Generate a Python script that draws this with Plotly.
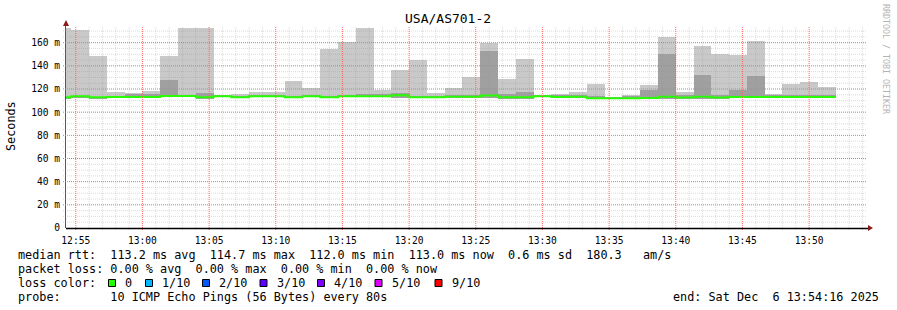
import plotly.graph_objects as go
import pandas as pd

# ---------------- data ----------------
DAY = "2025-12-06"
bar_start = [
    "12:53:20", "12:54:40", "12:56:00", "12:57:20", "12:58:40", "13:00:00",
    "13:01:20", "13:02:40", "13:04:00", "13:05:20", "13:06:40", "13:08:00",
    "13:09:20", "13:10:40", "13:12:00", "13:13:20", "13:14:40", "13:16:00",
    "13:17:20", "13:18:40", "13:20:00", "13:21:20", "13:22:40", "13:24:00",
    "13:25:20", "13:26:40", "13:28:00", "13:29:20", "13:30:40", "13:32:00",
    "13:33:20", "13:34:40", "13:36:00", "13:37:20", "13:38:40", "13:40:00",
    "13:41:20", "13:42:40", "13:44:00", "13:45:20", "13:46:40", "13:48:00",
    "13:49:20", "13:50:40",
]
last_bar_end = "13:52:00"
step_seconds = 80

# smoke: highest ping, upper edge of darker smoke, lowest ping (ms)
ping_max = [172.8, 171.0, 148.9, 117.6, 116.7, 118.4, 148.9, 172.8, 172.8, 115.2,
            115.5, 117.6, 117.6, 127.0, 120.8, 154.6, 160.7, 172.8, 119.2, 136.6,
            145.2, 116.2, 120.8, 130.0, 160.1, 128.8, 146.0, 115.0, 116.0, 117.7,
            124.0, 113.5, 115.0, 123.7, 165.3, 117.7, 157.2, 150.3, 149.5, 161.3,
            116.0, 124.7, 126.1, 121.9]
ping_upper = [113.5, 114.0, 113.5, 114.0, 115.5, 116.0, 128.0, 115.0, 116.4, 114.5,
              114.0, 114.5, 114.5, 114.0, 114.5, 114.0, 114.5, 115.5, 116.0, 116.5,
              114.0, 114.0, 114.5, 114.5, 153.2, 116.0, 117.7, 114.5, 115.0, 115.0,
              114.0, 113.0, 114.0, 119.4, 149.8, 115.0, 132.2, 115.0, 119.4, 131.5,
              114.5, 114.5, 114.5, 114.5]
ping_min = [111.9, 112.7, 111.9, 112.0, 112.0, 112.2, 112.9, 112.9, 111.8, 112.7,
            111.9, 112.7, 112.7, 111.9, 112.7, 111.9, 112.7, 112.7, 112.7, 112.6,
            111.9, 111.9, 112.3, 112.3, 112.6, 111.8, 111.8, 112.7, 112.0, 112.3,
            111.0, 111.0, 111.0, 111.3, 111.8, 111.7, 111.8, 111.7, 112.2, 112.2,
            112.1, 112.1, 112.0, 112.0]
median_rtt = [112.9, 113.7, 112.9, 113.0, 113.0, 113.2, 113.9, 113.9, 112.8, 113.7,
              112.9, 113.7, 113.7, 112.9, 113.7, 112.9, 113.7, 113.7, 113.7, 114.6,
              112.9, 112.9, 113.3, 113.3, 114.3, 112.8, 112.8, 113.7, 113.0, 113.3,
              112.0, 112.0, 112.0, 112.3, 113.3, 112.7, 113.3, 112.7, 113.2, 113.2,
              113.1, 113.1, 113.0, 113.0]

y_tick_vals = [0, 20, 40, 60, 80, 100, 120, 140, 160]
y_tick_text = ["0", "20 m", "40 m", "60 m", "80 m", "100 m", "120 m", "140 m", "160 m"]
x_start = "2025-12-06 12:54:16"
x_end = "2025-12-06 13:54:16"

title_text = "USA/AS701-2"
y_title = "Seconds"
credit = "RRDTOOL / TOBI OETIKER"
legend_line1 = "median rtt:  113.2 ms avg  114.7 ms max  112.0 ms min  113.0 ms now  0.6 ms sd  180.3   am/s"
legend_line2 = "packet loss: 0.00 % avg  0.00 % max  0.00 % min  0.00 % now"
legend_line3_label = "loss color:"
legend_line4 = "probe:       10 ICMP Echo Pings (56 Bytes) every 80s"
end_text = "end: Sat Dec  6 13:54:16 2025"
loss_labels = ["0", "1/10", "2/10", "3/10", "4/10", "5/10", "9/10"]
loss_colors = ["#26ff00", "#00b8ff", "#0059ff", "#5e00ff", "#7e00ff", "#dd00ff", "#ff0000"]

# ---------------- layout geometry (pixels) ----------------
W, H = 897, 310
L, R, T, B = 66, 866, 26, 228
Y_TOP = 174.4
MONO = "DejaVu Sans Mono"
MAJOR_GRID = "#ff6464"
MINOR_GRID = "rgba(150,150,150,0.34)"


def px(x):
    return (x - L) / (R - L)


def py(y):
    return (B - y) / (B - T)


def nb(s):
    return s.replace(" ", "\u00a0")


starts = pd.to_datetime([f"{DAY} {s}" for s in bar_start])
centers = starts + pd.Timedelta(seconds=step_seconds / 2)
width_ms = step_seconds * 1000

fig = go.Figure()
fig.add_trace(go.Bar(
    x=centers, y=[a - b for a, b in zip(ping_max, ping_min)], base=ping_min,
    width=width_ms, marker=dict(color="#c9c9c9", line=dict(width=0)),
    hoverinfo="skip", showlegend=False))
fig.add_trace(go.Bar(
    x=centers, y=[a - b for a, b in zip(ping_upper, ping_min)], base=ping_min,
    width=width_ms, marker=dict(color="#a0a0a0", line=dict(width=0)),
    hoverinfo="skip", showlegend=False))
line_x = list(starts) + [pd.Timestamp(f"{DAY} {last_bar_end}")]
line_y = median_rtt + [median_rtt[-1]]
fig.add_trace(go.Scatter(
    x=line_x, y=line_y, mode="lines", line=dict(color=loss_colors[0], width=2, shape="hv"),
    hoverinfo="skip", showlegend=False))

shapes = []
# vertical grid lines every minute (major every 5)
t = pd.Timestamp(f"{DAY} 12:55:00")
tend = pd.Timestamp(x_end)
m = 0
while t <= tend:
    major = (m % 5 == 0)
    shapes.append(dict(type="line", xref="x", yref="paper", x0=t, x1=t, y0=py(230), y1=1,
                       layer="above",
                       line=dict(color=MAJOR_GRID if major else MINOR_GRID,
                                 width=1, dash="1px,1px")))
    t += pd.Timedelta(minutes=1)
    m += 1
# horizontal grid lines every 5 ms (major every 20)
v = 5
while v < Y_TOP:
    major = (v % 20 == 0)
    shapes.append(dict(type="line", xref="paper", yref="y", x0=px(63), x1=1, y0=v, y1=v,
                       layer="above",
                       line=dict(color=MAJOR_GRID if major else MINOR_GRID,
                                 width=1, dash="1px,1px")))
    v += 5

# axis arrows
shapes.append(dict(type="path", xref="paper", yref="paper",
                   path=f"M {px(63)} {py(26)} L {px(69)} {py(26)} L {px(66)} {py(20)} Z",
                   fillcolor="#8b1a1a", line=dict(width=0), layer="above"))
shapes.append(dict(type="line", xref="paper", yref="paper", x0=px(66), x1=px(869), y0=py(228.5), y1=py(228.5),
                   line=dict(color="black", width=1.5), layer="above"))
shapes.append(dict(type="path", xref="paper", yref="paper",
                   path=f"M {px(868)} {py(225)} L {px(868)} {py(231)} L {px(873)} {py(228)} Z",
                   fillcolor="#8b1a1a", line=dict(width=0), layer="above"))

annotations = []
annotations.append(dict(text=title_text, x=px(448), y=py(19), xref="paper", yref="paper",
                        showarrow=False, xanchor="center", yanchor="middle",
                        font=dict(family=MONO, size=13, color="black")))
annotations.append(dict(text=y_title, x=px(11), y=py(126), xref="paper", yref="paper",
                        showarrow=False, xanchor="center", yanchor="middle", textangle=-90,
                        font=dict(family=MONO, size=11.8, color="black")))
annotations.append(dict(text=nb(credit), x=px(886), y=py(59), xref="paper", yref="paper",
                        showarrow=False, xanchor="center", yanchor="middle", textangle=90,
                        font=dict(family=MONO, size=8.3, color="#b4b4b4")))

legend_y = [255, 268.5, 282.5, 296.5]
for txt, yy in [(legend_line1, legend_y[0]), (legend_line2, legend_y[1]),
                (legend_line3_label, legend_y[2]), (legend_line4, legend_y[3])]:
    annotations.append(dict(text=nb(txt), x=px(16), y=py(yy), xref="paper", yref="paper",
                            showarrow=False, xanchor="left", yanchor="middle",
                            font=dict(family=MONO, size=11.8, color="black")))
annotations.append(dict(text=nb(end_text), x=px(881), y=py(legend_y[3]), xref="paper", yref="paper",
                        showarrow=False, xanchor="right", yanchor="middle",
                        font=dict(family=MONO, size=11.8, color="black")))

square_x = [108.5, 145.5, 202.5, 260, 317.5, 375, 435]
for sx, lab, col in zip(square_x, loss_labels, loss_colors):
    shapes.append(dict(type="rect", xref="paper", yref="paper",
                       x0=px(sx), x1=px(sx + 7), y0=py(286.5), y1=py(279.5),
                       fillcolor=col, line=dict(color="black", width=1)))
    annotations.append(dict(text=nb(lab), x=px(sx + 14.5), y=py(legend_y[2]), xref="paper", yref="paper",
                            showarrow=False, xanchor="left", yanchor="middle",
                            font=dict(family=MONO, size=11.8, color="black")))

fig.update_layout(
    width=W, height=H,
    margin=dict(l=L, r=W - R, t=T, b=H - B, pad=0),
    paper_bgcolor="white", plot_bgcolor="white",
    barmode="overlay", bargap=0, showlegend=False,
    shapes=shapes, annotations=annotations,
    xaxis=dict(type="date", range=[x_start, x_end], tick0=f"{DAY} 12:55:00", dtick=300000,
               tickformat="%H:%M", showgrid=False, zeroline=False,
               showline=False,
               ticks="outside", ticklen=3, tickcolor="rgba(0,0,0,0)",
               tickfont=dict(family=MONO, size=9.6, color="black"),
               fixedrange=True),
    yaxis=dict(range=[0, Y_TOP], tickmode="array", tickvals=y_tick_vals, ticktext=y_tick_text,
               showgrid=False, zeroline=False,
               showline=True, linecolor="#555555", linewidth=1,
               ticks="outside", ticklen=3, tickcolor="rgba(0,0,0,0)",
               tickfont=dict(family=MONO, size=9.6, color="black"),
               fixedrange=True),
)

fig.write_html("out.html")
